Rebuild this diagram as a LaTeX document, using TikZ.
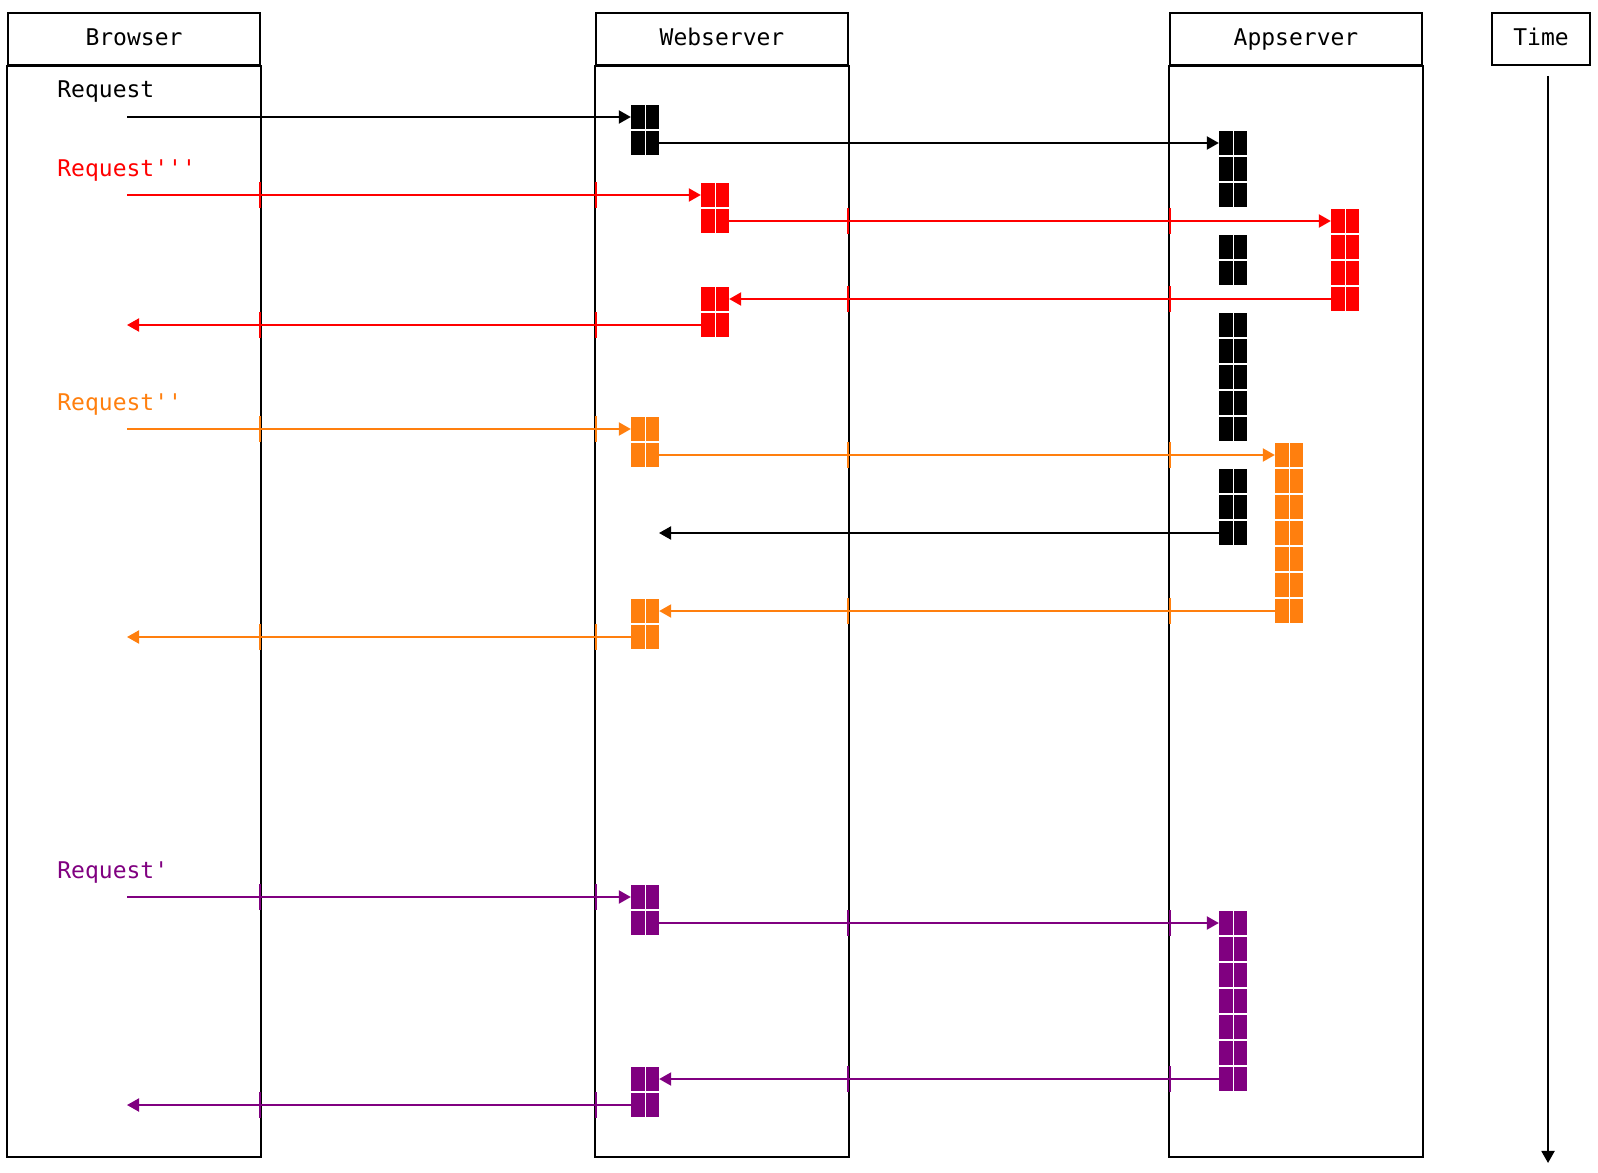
\documentclass[tikz,border=0pt]{standalone}
\usepackage{fontspec}
\setmonofont{DejaVu Sans Mono}
\usetikzlibrary{arrows.meta}
\definecolor{reqorange}{RGB}{255,127,14}
\definecolor{reqviolet}{RGB}{128,0,128}
\tikzset{
  entete/.style={draw, line width=1pt, minimum height=26pt, inner sep=0pt, text height=9pt, text depth=2pt},
  etiq/.style={anchor=west, inner sep=0pt, text height=9pt, text depth=2pt},
  bloc/.style={fill=#1, minimum width=13.75pt, minimum height=11.75pt, inner sep=0pt,
    path picture={\draw[white, line width=0.4pt] (path picture bounding box.north) -- (path picture bounding box.south);}},
  fleche/.style={color=#1, line width=1pt, -{Triangle[length=6pt, width=6.5pt]}},
  croix/.style={color=#1, line width=1pt}
}
\begin{document}
\begin{tikzpicture}[x=7pt, y=-13pt, font=\ttfamily\fontsize{11.5}{14}\selectfont]
\useasboundingbox (-0.5714,-0.5) rectangle (113.5714,44.577);

% Colonnes
\coordinate (bas) at (0,44);
\node[entete, minimum width=126pt] (browser) at (9,1) {Browser};
\node[entete, minimum width=126pt] (webserver) at (51,1) {Webserver};
\node[entete, minimum width=126pt] (appserver) at (92,1) {Appserver};
\node[entete, minimum width=49pt] (temps) at (109.5,1) {Time};
\draw[line width=1pt] (browser.south west) rectangle (browser.south east |- bas);
\draw[line width=1pt] (webserver.south west) rectangle (webserver.south east |- bas);
\draw[line width=1pt] (appserver.south west) rectangle (appserver.south east |- bas);

% Axe du temps
\coordinate (t0) at (110,2.42);
\coordinate (t1) at (110,44.23);
\draw[fleche=black] (t0) -- (t1);

% Croisements colores
\foreach \k/\c in {7/red,12/red,16/reqorange,24/reqorange,34/reqviolet,42/reqviolet}
  \foreach \x in {18,42} \draw[croix=\c] (\x,\k-0.5) -- (\x,\k+0.5);
\foreach \k/\c in {8/red,11/red,17/reqorange,23/reqorange,35/reqviolet,41/reqviolet}
  \foreach \x in {60,83} \draw[croix=\c] (\x,\k-0.5) -- (\x,\k+0.5);

% Requetes
\node[etiq] (req) at (3.5,3) {Request};
\node[etiq, red] (req3) at (3.5,6) {Request'''};
\node[etiq, reqorange] (req2) at (3.5,15) {Request''};
\node[etiq, reqviolet] (req1) at (3.5,33) {Request'};

% Blocs du webserver
\foreach \k in {4,5} \node[bloc=black] (wk\k) at (45.5,\k) {};
\foreach \k in {7,8,11,12} \node[bloc=red] (wr\k) at (50.5,\k) {};
\foreach \k in {16,17,23,24} \node[bloc=reqorange] (wo\k) at (45.5,\k) {};
\foreach \k in {34,35,41,42} \node[bloc=reqviolet] (wv\k) at (45.5,\k) {};

% Blocs de l'appserver
\foreach \k in {5,6,7,9,10,12,13,14,15,16,18,19,20} \node[bloc=black] (ak\k) at (87.5,\k) {};
\foreach \k in {8,9,10,11} \node[bloc=red] (ar\k) at (95.5,\k) {};
\foreach \k in {17,18,19,20,21,22,23} \node[bloc=reqorange] (ao\k) at (91.5,\k) {};
\foreach \k in {35,36,37,38,39,40,41} \node[bloc=reqviolet] (av\k) at (87.5,\k) {};

% Points libres du browser
\coordinate (d4) at (8.5,4);
\coordinate (d7) at (8.5,7);
\coordinate (d12) at (8.5,12);
\coordinate (d16) at (8.5,16);
\coordinate (d24) at (8.5,24);
\coordinate (d34) at (8.5,34);
\coordinate (d42) at (8.5,42);
\coordinate (r20) at (46.5,20);

% Fleches Request
\draw[fleche=black] (d4) -- (wk4.west);
\draw[fleche=black] (wk5.east) -- (ak5.west);
\draw[fleche=black] (ak20.west) -- (r20);

% Fleches Request'''
\draw[fleche=red] (d7) -- (wr7.west);
\draw[fleche=red] (wr8.east) -- (ar8.west);
\draw[fleche=red] (ar11.west) -- (wr11.east);
\draw[fleche=red] (wr12.west) -- (d12);

% Fleches Request''
\draw[fleche=reqorange] (d16) -- (wo16.west);
\draw[fleche=reqorange] (wo17.east) -- (ao17.west);
\draw[fleche=reqorange] (ao23.west) -- (wo23.east);
\draw[fleche=reqorange] (wo24.west) -- (d24);

% Fleches Request'
\draw[fleche=reqviolet] (d34) -- (wv34.west);
\draw[fleche=reqviolet] (wv35.east) -- (av35.west);
\draw[fleche=reqviolet] (av41.west) -- (wv41.east);
\draw[fleche=reqviolet] (wv42.west) -- (d42);

\end{tikzpicture}
\end{document}
